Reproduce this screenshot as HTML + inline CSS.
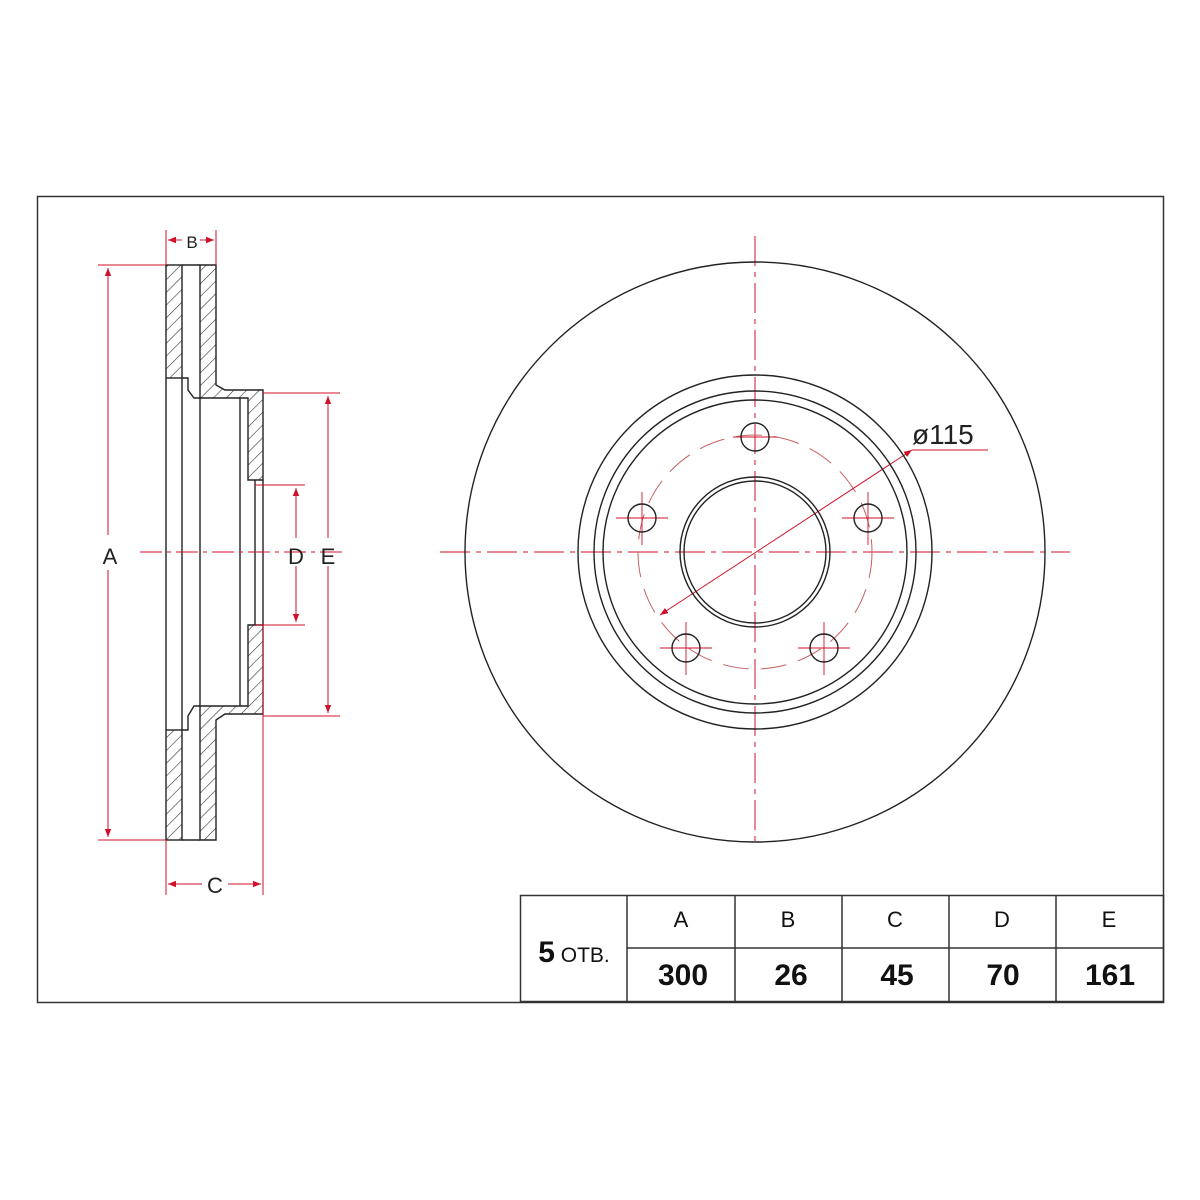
<!DOCTYPE html><html><head><style>body{margin:0;background:#fff}svg{display:block}</style></head><body>
<svg width="1200" height="1200" viewBox="0 0 1200 1200" xmlns="http://www.w3.org/2000/svg" font-family="Liberation Sans, sans-serif">
<defs>
<pattern id="h" width="9" height="9" patternUnits="userSpaceOnUse" patternTransform="rotate(45)"><line x1="0" y1="0" x2="0" y2="9" stroke="#333" stroke-width="1.2"/></pattern>
<marker id="ar" viewBox="0 0 10 10" refX="10" refY="5" markerWidth="8" markerHeight="8" orient="auto-start-reverse"><path d="M0,1 L10,5 L0,9 z" fill="#d0102a"/></marker>
</defs>
<rect x="37.5" y="196.5" width="1126" height="806" fill="none" stroke="#333" stroke-width="1.5"/>
<!-- side view -->
<g stroke="#222" stroke-width="1.4" fill="url(#h)">
<rect x="166" y="265" width="16" height="113"/>
<rect x="166" y="730" width="16" height="110"/>
<path d="M200,265 H216 V385 L225,390 H263 V480 H248 V398 H200 Z"/>
<path d="M200,840 H216 V720 L225,714 H263 V625 H248 V706 H200 Z"/>
</g>
<g stroke="#222" stroke-width="1.4" fill="none">
<line x1="166" y1="378" x2="166" y2="730"/>
<line x1="182" y1="378" x2="182" y2="730"/>
<line x1="182" y1="265" x2="200" y2="265"/><line x1="182" y1="840" x2="200" y2="840"/>
<path d="M182,378 H188 V390 L194,398 H200"/><path d="M182,730 H188 V716 L194,706 H200"/>
<line x1="200" y1="398" x2="200" y2="706"/>
<line x1="240" y1="398" x2="240" y2="706"/>
<line x1="255" y1="480" x2="255" y2="625"/>
<line x1="263" y1="480" x2="263" y2="625"/>
</g>
<g stroke="#d0102a" stroke-width="1" fill="none">
<line x1="140" y1="552" x2="345" y2="552" stroke-dasharray="22,5,4,5"/>
<line x1="98" y1="265" x2="166" y2="265"/><line x1="98" y1="840" x2="166" y2="840"/>
<line x1="108" y1="268" x2="108" y2="535" marker-start="url(#ar)"/><line x1="108" y1="570" x2="108" y2="837" marker-end="url(#ar)"/>
<line x1="166" y1="230" x2="166" y2="265"/><line x1="216" y1="230" x2="216" y2="265"/>
<line x1="168" y1="240" x2="182" y2="240" marker-start="url(#ar)"/><line x1="200" y1="240" x2="214" y2="240" marker-end="url(#ar)"/>
<line x1="166" y1="840" x2="166" y2="895"/><line x1="263" y1="625" x2="263" y2="895"/>
<line x1="168" y1="884" x2="202" y2="884" marker-start="url(#ar)"/><line x1="228" y1="884" x2="261" y2="884" marker-end="url(#ar)"/>
<line x1="263" y1="393" x2="340" y2="393"/><line x1="263" y1="716" x2="340" y2="716"/>
<line x1="328" y1="396" x2="328" y2="538" marker-start="url(#ar)"/><line x1="328" y1="566" x2="328" y2="713" marker-end="url(#ar)"/>
<line x1="255" y1="485" x2="305" y2="485"/><line x1="255" y1="625" x2="305" y2="625"/>
<line x1="296" y1="488" x2="296" y2="538" marker-start="url(#ar)"/><line x1="296" y1="566" x2="296" y2="622" marker-end="url(#ar)"/>
</g>
<g font-size="22" fill="#222" text-anchor="middle">
<text x="110" y="564">A</text><text x="296" y="564">D</text><text x="328" y="564">E</text>
<text x="192" y="248" font-size="17">B</text><text x="215" y="893">C</text>
</g>
<!-- front view -->
<g stroke="#d0102a" stroke-width="1" fill="none">
<line x1="440" y1="552" x2="1070" y2="552" stroke-dasharray="30,6,5,6"/>
<line x1="755" y1="236" x2="755" y2="845" stroke-dasharray="30,6,5,6"/>
<circle cx="755" cy="552" r="117" stroke-dasharray="26,12" stroke="#c86060"/>
<line x1="660" y1="615" x2="912" y2="450" marker-start="url(#ar)" marker-end="url(#ar)"/>
<line x1="912" y1="450" x2="988" y2="450"/>
<g stroke-width="0.9">
<line x1="733" y1="437" x2="777" y2="437"/>
<line x1="616" y1="518" x2="668" y2="518"/><line x1="642" y1="492" x2="642" y2="545"/>
<line x1="842" y1="518" x2="894" y2="518"/><line x1="868" y1="492" x2="868" y2="545"/>
<line x1="660" y1="648" x2="712" y2="648"/><line x1="686" y1="622" x2="686" y2="675"/>
<line x1="798" y1="648" x2="850" y2="648"/><line x1="824" y1="622" x2="824" y2="675"/>
</g></g>
<g stroke="#222" stroke-width="1.4" fill="none">
<circle cx="755" cy="552" r="290"/>
<circle cx="755" cy="552" r="177"/>
<circle cx="755" cy="552" r="161"/>
<circle cx="755" cy="552" r="152"/>
<circle cx="755" cy="552" r="75"/>
<circle cx="755" cy="552" r="71"/>
<circle cx="755" cy="437" r="14"/>
<circle cx="642" cy="518" r="14"/>
<circle cx="868" cy="518" r="14"/>
<circle cx="686" cy="648" r="14"/>
<circle cx="824" cy="648" r="14"/>
</g>
<text x="912" y="444" font-size="28" fill="#222">ø115</text>
<!-- table -->
<g stroke="#333" stroke-width="1.5" fill="none">
<rect x="520.5" y="895.5" width="643" height="106"/>
<line x1="627" y1="895" x2="627" y2="1002"/><line x1="735" y1="895" x2="735" y2="1002"/>
<line x1="842" y1="895" x2="842" y2="1002"/><line x1="949" y1="895" x2="949" y2="1002"/>
<line x1="1056" y1="895" x2="1056" y2="1002"/><line x1="627" y1="948" x2="1163" y2="948"/>
</g>
<g text-anchor="middle" fill="#111">
<g font-size="22"><text x="681" y="927">A</text><text x="788" y="927">B</text><text x="895" y="927">C</text><text x="1002" y="927">D</text><text x="1109" y="927">E</text></g>
<g font-size="30" font-weight="bold"><text x="683" y="985">300</text><text x="791" y="985">26</text><text x="897" y="985">45</text><text x="1003" y="985">70</text><text x="1110" y="985">161</text></g>
<text x="574" y="962"><tspan font-size="30" font-weight="bold">5</tspan><tspan font-size="21"> ОТВ.</tspan></text>
</g>
</svg>
</body></html>
